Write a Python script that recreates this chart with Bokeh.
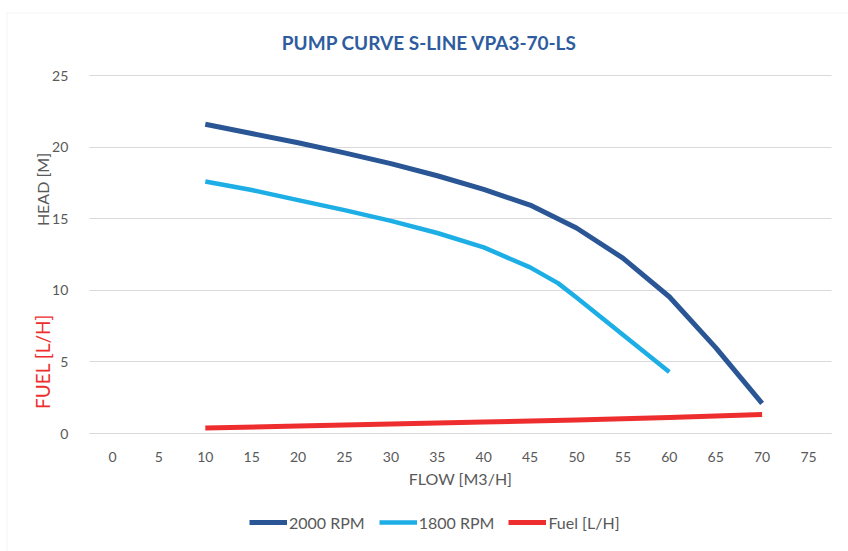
import math
from bokeh.plotting import figure
from bokeh.models import (Range1d, FixedTicker, Label, Legend, LegendItem, LinearAxis,
                          Grid, BoxAnnotation)
from bokeh.embed import file_html
from bokeh.resources import INLINE

# ---- data ----
flow_2000 = [10, 15, 20, 25, 30, 35, 40, 45, 50, 55, 60, 65, 70]
head_2000 = [21.6, 20.95, 20.3, 19.6, 18.85, 18.0, 17.05, 15.95, 14.35, 12.25, 9.55, 6.0, 2.1]

flow_1800 = [10, 15, 20, 25, 30, 35, 40, 45, 48, 50, 55, 60]
head_1800 = [17.6, 17.0, 16.3, 15.6, 14.85, 14.0, 13.0, 11.6, 10.5, 9.5, 6.9, 4.3]

flow_fuel = [10, 20, 30, 40, 50, 60, 70]
fuel = [0.38, 0.52, 0.66, 0.8, 0.95, 1.12, 1.32]

x_ticks = list(range(0, 80, 5))
y_ticks = [0, 5, 10, 15, 20, 25]

title_text = "PUMP CURVE S-LINE VPA3-70-LS"
series_names = ["2000 RPM", "1800 RPM", "Fuel [L/H]"]

FONT = "Lato"
GREY = "#595959"
W, H = 848, 551
# plot-area geometry (pixels) of the reference
X0_PX, X75_PX = 112, 808
Y0_PX, Y25_PX = 433, 75
kx = (X75_PX - X0_PX) / 75.0
ky = (Y0_PX - Y25_PX) / 25.0

x_range = Range1d(-X0_PX / kx, 75 + (W - X75_PX) / kx)
y_range = Range1d(-(H - Y0_PX) / ky, 25 + Y25_PX / ky)

p = figure(width=W, height=H, output_backend="svg", toolbar_location=None,
           x_range=x_range, y_range=y_range,
           x_axis_location=None, y_axis_location=None, min_border=0)
p.outline_line_color = None
p.background_fill_color = "white"
p.border_fill_color = "white"
p.xgrid.visible = False
p.ygrid.visible = False


def px_x(px):
    return (px - X0_PX) / kx


def px_y(py):
    return (Y0_PX - py) / ky


# chart-area border (only its top and left edges fall inside the picture)
p.add_layout(BoxAnnotation(left=px_x(6.5), right=px_x(W + 20), top=px_y(12.5), bottom=px_y(H + 20),
                           fill_alpha=0, line_color="#D9D9D9", line_width=1))

grid_kw = {}
if "cross_bounds" in Grid.properties():
    grid_kw["cross_bounds"] = (-2.5, 77.5)
grid = Grid(dimension=1, ticker=FixedTicker(ticks=y_ticks), grid_line_color="#D9D9D9",
            grid_line_width=1, **grid_kw)
p.add_layout(grid)

xaxis = LinearAxis(fixed_location=0, bounds=(-2.5, 77.5), ticker=FixedTicker(ticks=x_ticks))
yaxis = LinearAxis(fixed_location=-2.5, bounds=(0, 25), ticker=FixedTicker(ticks=y_ticks))
for ax in (xaxis, yaxis):
    ax.major_tick_line_color = None
    ax.minor_tick_line_color = None
    ax.major_label_text_color = GREY
    ax.major_label_text_font = FONT
    ax.major_label_text_font_size = "14px"
xaxis.major_label_standoff = 12
yaxis.major_label_standoff = 15
xaxis.axis_line_color = "#D9D9D9"
yaxis.axis_line_color = None
p.add_layout(xaxis, "below")
p.add_layout(yaxis, "left")

r1 = p.line(flow_2000, head_2000, line_color="#2A5696", line_width=5, line_join="round")
r2 = p.line(flow_1800, head_1800, line_color="#1DAEE6", line_width=4.5, line_join="round")
r3 = p.line(flow_fuel, fuel, line_color="#EE2E2E", line_width=5, line_join="round")

p.add_layout(Label(x=px_x(429), y=px_y(42), text=title_text, text_font=FONT,
                   text_font_size="19px", text_font_style="bold", text_color="#2E5C9E",
                   text_align="center", text_baseline="middle"))
p.add_layout(Label(x=px_x(460), y=px_y(478), text="FLOW [M3/H]", text_font=FONT,
                   text_font_size="16px", text_color=GREY,
                   text_align="center", text_baseline="middle"))
p.add_layout(Label(x=px_x(42), y=px_y(189), text="HEAD [M]", angle=math.pi / 2,
                   text_font=FONT, text_font_size="16px", text_color=GREY,
                   text_align="center", text_baseline="middle"))
p.add_layout(Label(x=px_x(42), y=px_y(361), text="FUEL [L/H]", angle=math.pi / 2,
                   text_font=FONT, text_font_size="19px", text_color="#EE2E2E",
                   text_align="center", text_baseline="middle"))

legend = Legend(items=[LegendItem(label=series_names[0], renderers=[r1]),
                       LegendItem(label=series_names[1], renderers=[r2]),
                       LegendItem(label=series_names[2], renderers=[r3])],
                orientation="horizontal", location=(249, H - 532),
                glyph_width=38, glyph_height=20, label_standoff=2, spacing=14,
                padding=0, margin=0, border_line_color=None,
                background_fill_alpha=0,
                label_text_font=FONT, label_text_font_size="16px",
                label_text_color=GREY)
p.add_layout(legend, "center")

open("out.html", "w").write(file_html(p, INLINE))
